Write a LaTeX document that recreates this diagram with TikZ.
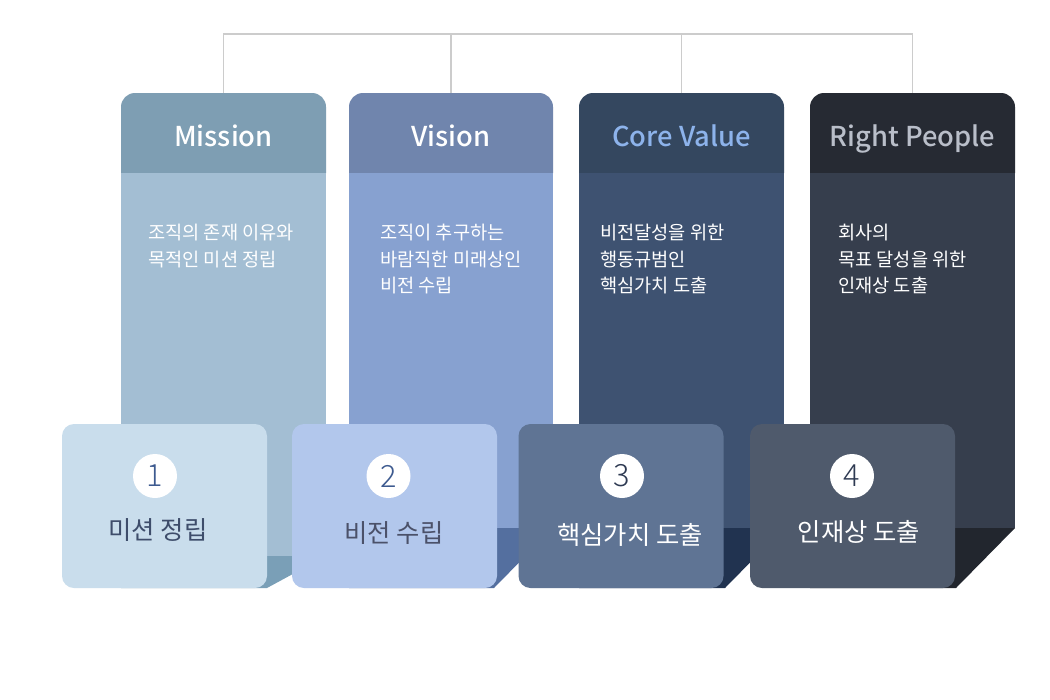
\documentclass[tikz,border=0pt]{standalone}
\usepackage{fontspec}
\setmainfont{Noto Sans CJK KR}
\newfontfamily\headfont{Noto Sans CJK KR Medium}
\newfontfamily\numfont{Noto Sans CJK KR Light}
\usepackage{tikz}
\usetikzlibrary{positioning}
\definecolor{linegrey}{HTML}{CCCCCC}
\definecolor{headA}{HTML}{7E9EB3}
\definecolor{bodyA}{HTML}{A3BED3}
\definecolor{baseA}{HTML}{7A9FB7}
\definecolor{headB}{HTML}{7085AD}
\definecolor{bodyB}{HTML}{87A1D0}
\definecolor{baseB}{HTML}{546F9F}
\definecolor{headC}{HTML}{34475F}
\definecolor{bodyC}{HTML}{3E5271}
\definecolor{baseC}{HTML}{213350}
\definecolor{headD}{HTML}{262A33}
\definecolor{bodyD}{HTML}{363E4D}
\definecolor{baseD}{HTML}{22262E}
\definecolor{cardA}{HTML}{C9DDEC}
\definecolor{cardB}{HTML}{B2C7EC}
\definecolor{cardC}{HTML}{5F7494}
\definecolor{cardD}{HTML}{4F5A6C}
\definecolor{inkA}{HTML}{3E4D6B}
\definecolor{inkB}{HTML}{4B5169}
\definecolor{numblue}{HTML}{3D5A8F}
\definecolor{numnavy}{HTML}{2E3A52}
\definecolor{coreblue}{HTML}{8DB3EB}
\definecolor{peoplegrey}{HTML}{B9BEC9}

\begin{document}
\begin{tikzpicture}[x=0.75pt, y=-0.75pt,
    headbox/.style={minimum width=153.75pt, minimum height=60pt, inner sep=0pt,
      text height=22pt, text depth=2.5pt, font=\fontsize{20.5}{24}\headfont},
    bodytext/.style={anchor=north west, align=left, inner sep=0pt, text=white,
      font=\fontsize{14}{19.8}\selectfont},
    card/.style={minimum width=153.75pt, minimum height=123pt, rounded corners=9pt,
      inner sep=0pt},
    numdot/.style={circle, fill=white, minimum size=33pt, inner sep=0pt,
      font=\fontsize{23}{23}\numfont},
    cardtext/.style={inner sep=0pt, font=\fontsize{19}{22}\selectfont},
    conn/.style={draw=linegrey, line width=1.4pt}]
  \fill[white] (0,0) rectangle (1050,700);
  \useasboundingbox (0,0) rectangle (1050,700);

  % Mission column
  \fill[headA] (121,173) [rounded corners=10.5pt] -- (121,93) -- (326,93)
    [sharp corners] -- (326,173) -- cycle;
  \fill[bodyA] (121,173) rectangle (326,556);
  \fill[baseA] (121,556) -- (326,556) -- (267,588) -- (121,588) -- cycle;
  \node[headbox, text=white] (mission) at (223.5,133) {Mission};
  \node[bodytext] (missiontxt) at (148,224) {조직의 존재 이유와\\목적인 미션 정립};

  % Vision column
  \fill[headB] (349,173) [rounded corners=10.5pt] -- (349,93) -- (553,93)
    [sharp corners] -- (553,173) -- cycle;
  \fill[bodyB] (349,173) rectangle (553,528);
  \fill[baseB] (349,528) -- (553,528) -- (494,588) -- (349,588) -- cycle;
  \node[headbox, text=white] (vision) at (451,133) {Vision};
  \node[bodytext] (visiontxt) at (380,224)
    {조직이 추구하는\\바람직한 미래상인\\비전 수립};

  % Core Value column
  \fill[headC] (579,173) [rounded corners=10.5pt] -- (579,93) -- (784,93)
    [sharp corners] -- (784,173) -- cycle;
  \fill[bodyC] (579,173) rectangle (784,528);
  \fill[baseC] (579,528) -- (784,528) -- (725,588) -- (579,588) -- cycle;
  \node[headbox, text=coreblue] (core) at (681.5,133) {Core Value};
  \node[bodytext] (coretxt) at (600,224)
    {비전달성을 위한\\행동규범인\\핵심가치 도출};

  % Right People column
  \fill[headD] (810,173) [rounded corners=10.5pt] -- (810,93) -- (1015,93)
    [sharp corners] -- (1015,173) -- cycle;
  \fill[bodyD] (810,173) rectangle (1015,528);
  \fill[baseD] (810,528) -- (1015,528) -- (956,588) -- (810,588) -- cycle;
  \node[headbox, text=peoplegrey] (people) at (912.5,133) {Right People};
  \node[bodytext] (peopletxt) at (838,224)
    {회사의\\목표 달성을 위한\\인재상 도출};

  % top bracket
  \coordinate (bar) at (0,34);
  \draw[conn] (mission.north) -- (mission.north |- bar) -- (people.north |- bar)
    -- (people.north);
  \draw[conn] (vision.north) -- (vision.north |- bar);
  \draw[conn] (core.north) -- (core.north |- bar);

  % step cards
  \node[card, fill=cardA] (card1) at (164.5,506) {};
  \node[numdot, text=numblue] (num1) at (155,476) {1};
  \node[cardtext, text=inkA] (lab1) at (158,530) {미션 정립};

  \node[card, fill=cardB] (card2) at (394.5,506) {};
  \node[numdot, text=numblue] (num2) at (388.5,476) {2};
  \node[cardtext, text=inkB] (lab2) at (394,533) {비전 수립};

  \node[card, fill=cardC] (card3) at (621,506) {};
  \node[numdot, text=numnavy] (num3) at (622,476) {3};
  \node[cardtext, text=white] (lab3) at (630,535) {핵심가치 도출};

  \node[card, fill=cardD] (card4) at (852.5,506) {};
  \node[numdot, text=numnavy] (num4) at (852,476) {4};
  \node[cardtext, text=white] (lab4) at (859,532) {인재상 도출};
\end{tikzpicture}
\end{document}
